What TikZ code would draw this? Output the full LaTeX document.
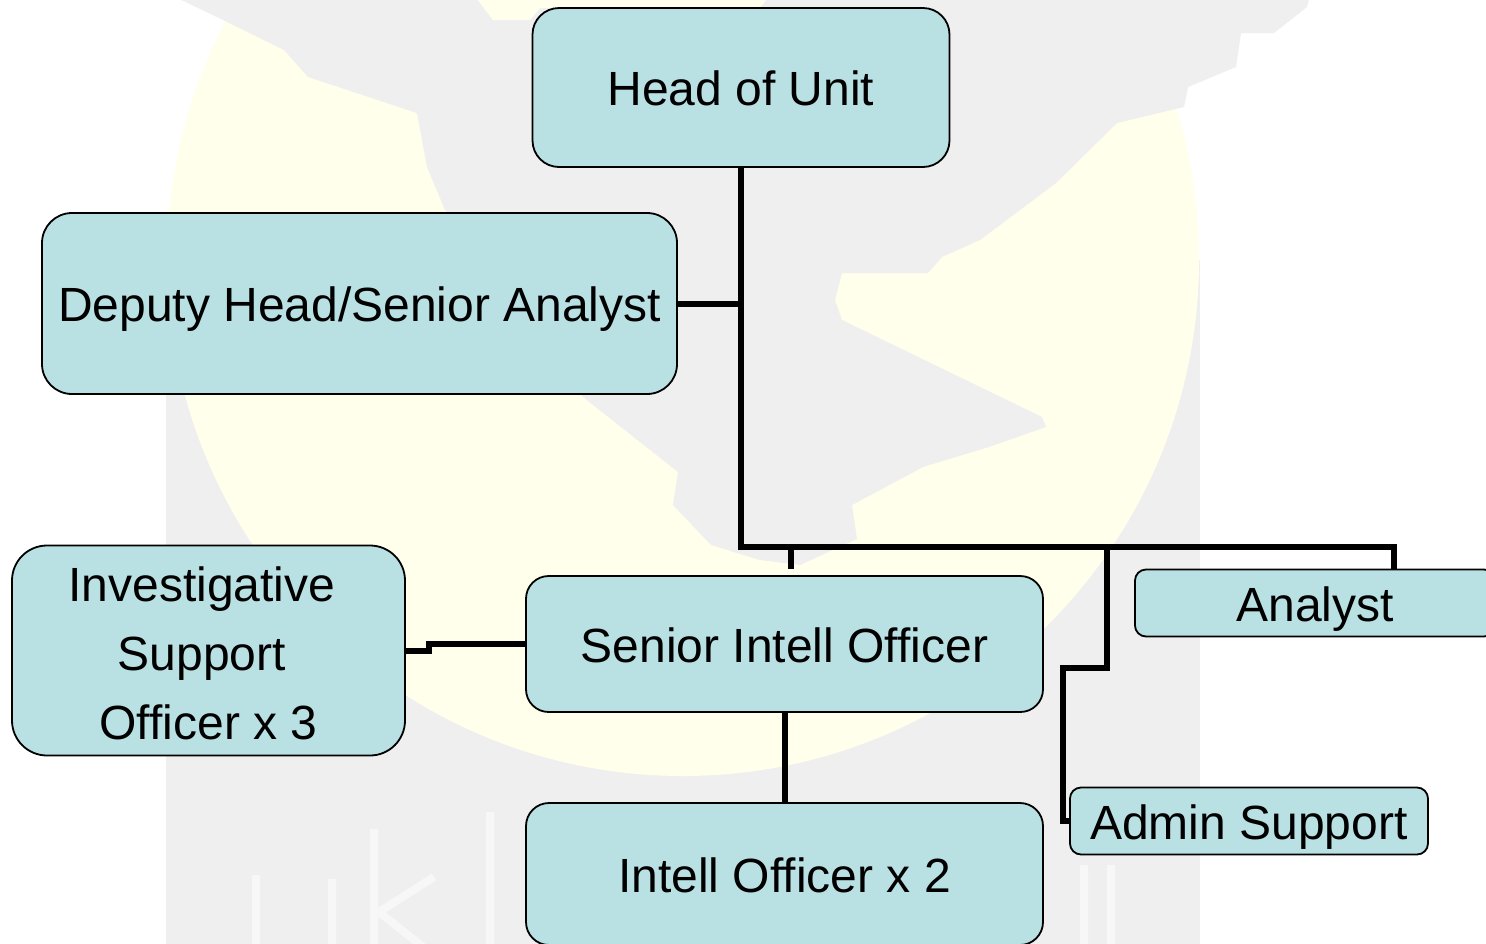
\documentclass[tikz,border=0pt]{standalone}
\usepackage{fontspec}
\setmainfont{Liberation Sans}
\usetikzlibrary{positioning}
\definecolor{boxfill}{RGB}{185,224,227}
\definecolor{wmgrey}{RGB}{239,239,240}
\definecolor{wmyellow}{RGB}{255,255,235}
\tikzset{
    x=1pt, y=-1pt, % one unit is one pixel of the page, y runs down
    orgbox/.style={draw=black, line width=1.8pt, fill=boxfill, align=center, inner sep=0pt,
        font=\fontsize{48}{69}\selectfont}, % every box of the chart
    oneline/.style={orgbox, text height=36.5pt, text depth=0pt}, % keeps the baselines level
    link/.style={draw=black, line width=6pt, line join=miter}, % the thick connectors
    wmstroke/.style={draw=white, opacity=0.5, line width=8pt}, % faint letters of the watermark
}

\begin{document}
\begin{tikzpicture}
    \clip (0,0) rectangle (1486,943);
    \fill[white] (0,0) rectangle (1486,943);
    % watermark behind the chart
    \fill[wmgrey] (166,260) rectangle (1200,950);
    \fill[wmyellow] (683,260) circle (516);
    \fill[wmgrey] (171,-5) -- (223,20) -- (284,50) -- (308,77) -- (417,113) -- (427,167) -- (445,210)
        -- (583,397) -- (678,472) -- (673,505) -- (711,545) -- (760,560) -- (800,565) -- (857,539)
        -- (852,505) -- (923,467) -- (989,447) -- (1046,427) -- (1042,417) -- (842,320) -- (835,300)
        -- (842,273) -- (928,273) -- (942,257) -- (980,240) -- (1056,183) -- (1117,123) -- (1184,107)
        -- (1188,87) -- (1236,67) -- (1241,33) -- (1274,33) -- (1307,7) -- (1310,-5) -- cycle;
    \fill[wmyellow] (474,-5) -- (493,20) -- (530,20) -- (540,8) -- (760,8) -- (770,-5) -- cycle;
    \draw[wmstroke] (256,875) -- (256,950) (332,879) -- (332,950) (374,829) -- (374,950)
        (434,877) -- (379,912) -- (427,950) (490,812) -- (490,950) (1084,865) -- (1084,950)
        (1111,865) -- (1111,950);

    \node[oneline, rounded corners=26.5pt, minimum width=417pt, minimum height=159pt] (head) at (741,87.5) {Head of Unit};
    \node[oneline, rounded corners=30pt, minimum width=635pt, minimum height=181pt] (deputy) at (359.5,303.5) {Deputy Head/Senior Analyst};
    \node[orgbox, rounded corners=35pt, minimum width=393pt, minimum height=210pt] (invest) at (208.5,650.5)
        {\rule{0pt}{40pt}Investigative\rule{13.3pt}{0pt}\\Support\rule{13.3pt}{0pt}\\Officer x 3};
    \node[oneline, rounded corners=22.7pt, minimum width=517pt, minimum height=136pt] (senior) at (784.5,644) {Senior Intell Officer};
    \node[oneline, rounded corners=23pt, minimum width=517pt, minimum height=142pt, below of=senior, node distance=230pt] (intell) {Intell Officer x 2};
    \node[oneline, rounded corners=11pt, minimum width=360pt, minimum height=67pt] (analyst) at (1315,603) {Analyst};
    \node[oneline, rounded corners=11pt, minimum width=358pt, minimum height=67pt] (admin) at (1249,821) {Admin Support};

    \coordinate (trunk) at (741,546.5);
    \coordinate (analystfoot) at (1394,569);
    \coordinate (seniorfoot) at (791,569);
    \coordinate (adminbranch) at (1107,546.5);
    \coordinate (adminbend) at (1062.5,667.5);
    \coordinate (investjog) at (429,644);

    \draw[link] (head) -- (trunk) -| (analystfoot);
    \draw[link] (deputy.east) -- (deputy.east -| trunk);
    \draw[link] (seniorfoot |- trunk) -- (seniorfoot);
    \draw[link] (adminbranch) |- (adminbend) |- (admin.west);
    \draw[link] (invest.east) -| (investjog) -- (senior.west);
    \draw[link] (senior) -- (intell);
\end{tikzpicture}
\end{document}
